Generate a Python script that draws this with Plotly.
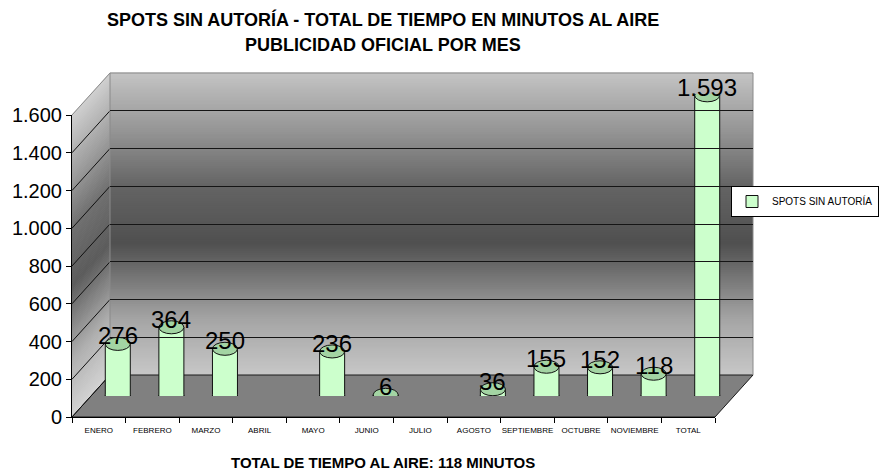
import math
import plotly.graph_objects as go

# ---------------- data ----------------
categories = ["ENERO", "FEBRERO", "MARZO", "ABRIL", "MAYO", "JUNIO", "JULIO",
              "AGOSTO", "SEPTIEMBRE", "OCTUBRE", "NOVIEMBRE", "TOTAL"]
minutes = [276, 364, 250, 0, 236, 6, 0, 36, 155, 152, 118, 1593]
series_name = "SPOTS SIN AUTORÍA"
y_ticks = [0, 200, 400, 600, 800, 1000, 1200, 1400, 1600]
title_lines = ["SPOTS SIN AUTORÍA - TOTAL DE TIEMPO EN MINUTOS AL AIRE",
               "PUBLICIDAD OFICIAL POR MES"]
footer = "TOTAL DE TIEMPO AL AIRE: 118 MINUTOS"

# ---------------- geometry (pixels) ----------------
W, H = 886, 471
FX0, FX1 = 72, 715          # front x extent
FY0, FYT = 417, 115         # front y of 0 and of 1600
DX, DY = 38, 42             # depth offset of back wall
YMAX = 1600
SCALE = (FY0 - FYT) / YMAX  # px per minute
NCAT = len(categories)
CATW = (FX1 - FX0) / NCAT   # px per category

FONT = "Arial, Liberation Sans, sans-serif"


def px(x):
    return x / W


def py(y):
    return 1 - y / H


def front_y(level):
    return FY0 - level * SCALE


def back_y(level):
    return FY0 - DY - level * SCALE


def shade(level, lighten=0):
    stops = [(0, 200), (300, 165), (700, 80), (1000, 100), (1300, 150), (1600, 196)]
    for (l0, c0), (l1, c1) in zip(stops[:-1], stops[1:]):
        if l0 <= level <= l1:
            c = c0 + (c1 - c0) * (level - l0) / (l1 - l0)
            break
    else:
        c = stops[-1][1]
    c = int(min(255, c + lighten))
    return f"rgb({c},{c},{c})"


shapes = []
# back wall gradient stripes
step = 10
for lv in range(0, YMAX, step):
    shapes.append(dict(type="rect", xref="paper", yref="paper", layer="below",
                       x0=px(FX0 + DX), x1=px(FX1 + DX),
                       y0=py(back_y(lv) + 0.5), y1=py(back_y(lv + step) - 0.5),
                       fillcolor=shade(lv + step / 2), line=dict(width=0)))
# side wall gradient stripes
for lv in range(0, YMAX, step):
    path = (f"M {px(FX0)},{py(front_y(lv) + 0.5)} L {px(FX0)},{py(front_y(lv + step) - 0.5)} "
            f"L {px(FX0 + DX)},{py(back_y(lv + step) - 0.5)} L {px(FX0 + DX)},{py(back_y(lv) + 0.5)} Z")
    shapes.append(dict(type="path", xref="paper", yref="paper", layer="below", path=path,
                       fillcolor=shade(lv + step / 2, 12), line=dict(width=0)))
# floor
floor_path = (f"M {px(FX0)},{py(FY0)} L {px(FX1)},{py(FY0)} L {px(FX1 + DX)},{py(FY0 - DY)} "
              f"L {px(FX0 + DX)},{py(FY0 - DY)} Z")
shapes.append(dict(type="path", xref="paper", yref="paper", layer="below", path=floor_path,
                   fillcolor="#808080", line=dict(color="#1a1a1a", width=1)))
# side wall diagonal grid lines
for lv in y_ticks:
    col = "#8a8a8a" if lv == YMAX else "#111111"
    shapes.append(dict(type="line", xref="paper", yref="paper", layer="below",
                       x0=px(FX0), y0=py(front_y(lv)), x1=px(FX0 + DX), y1=py(back_y(lv)),
                       line=dict(color=col, width=1)))
# wall edges
shapes.append(dict(type="line", xref="paper", yref="paper", layer="below",
                   x0=px(FX0 + DX), y0=py(back_y(0)), x1=px(FX0 + DX), y1=py(back_y(YMAX)),
                   line=dict(color="#8a8a8a", width=1)))
shapes.append(dict(type="line", xref="paper", yref="paper", layer="below",
                   x0=px(FX0 + DX), y0=py(back_y(YMAX)), x1=px(FX1 + DX), y1=py(back_y(YMAX)),
                   line=dict(color="#8a8a8a", width=1)))
shapes.append(dict(type="line", xref="paper", yref="paper", layer="below",
                   x0=px(FX1 + DX), y0=py(back_y(YMAX)), x1=px(FX1 + DX), y1=py(back_y(0)),
                   line=dict(color="#8a8a8a", width=1)))

# cylinder caps (computed from the data values on axis x2/y2)
A_PX, B_PX = 12.5, 6.5
a_u = A_PX / CATW
b_u = B_PX / SCALE
BODY = "#ccffcc"
CAP = "#a3d4a3"
for i, v in enumerate(minutes):
    if v <= 0:
        continue
    pts = []
    n = 24
    for k in range(n + 1):
        t = math.pi * k / n
        pts.append((i - a_u * math.cos(t), -b_u * math.sin(t)))
    p = f"M {i - a_u},{1.2 / SCALE} " + " ".join(f"L {x:.4f},{y:.3f}" for x, y in pts) + f" L {i + a_u},{1.2 / SCALE}"
    shapes.append(dict(type="path", xref="x2", yref="y2", layer="above", path=p,
                       fillcolor=BODY, line=dict(color="#111111", width=1)))
for i, v in enumerate(minutes):
    if v <= 0:
        continue
    shapes.append(dict(type="circle", xref="x2", yref="y2", layer="above",
                       x0=i - a_u, x1=i + a_u, y0=v - b_u, y1=v + b_u,
                       fillcolor=CAP, line=dict(color="#111111", width=1)))

annotations = []
for i, v in enumerate(minutes):
    if v <= 0:
        continue
    annotations.append(dict(x=i, y=v, xref="x2", yref="y2", text=f"{v:,}".replace(",", "."),
                            showarrow=False, yshift=8, font=dict(family=FONT, size=24, color="#000")))
annotations.append(dict(x=px(383), y=py(20), xref="paper", yref="paper", showarrow=False,
                        yanchor="middle", text=f"<b>{title_lines[0]}</b>",
                        font=dict(family=FONT, size=18, color="#000")))
annotations.append(dict(x=px(383), y=py(45), xref="paper", yref="paper", showarrow=False,
                        yanchor="middle", text=f"<b>{title_lines[1]}</b>",
                        font=dict(family=FONT, size=18, color="#000")))
annotations.append(dict(x=px(383), y=py(462), xref="paper", yref="paper", showarrow=False,
                        yanchor="middle", text=f"<b>{footer}</b>",
                        font=dict(family=FONT, size=15, color="#000")))

fig = go.Figure()
fig.add_trace(go.Bar(
    x=list(range(NCAT)), y=minutes, name=series_name, xaxis="x2", yaxis="y2",
    width=A_PX * 2 / CATW,
    marker=dict(color=BODY, line=dict(color="#111111", width=[1 if v > 0 else 0 for v in minutes])),
    hovertemplate="%{y}<extra></extra>",
))
# invisible trace to carry the front category axis
fig.add_trace(go.Scatter(x=categories, y=[None] * NCAT, xaxis="x", yaxis="y",
                         mode="markers", showlegend=False, hoverinfo="skip"))
fig.add_trace(go.Scatter(x=[None], y=[None], xaxis="x3", yaxis="y3", showlegend=False,
                         hoverinfo="skip"))

fig.update_layout(
    width=W, height=H,
    margin=dict(l=0, r=0, t=0, b=0, autoexpand=False),
    paper_bgcolor="white", plot_bgcolor="rgba(0,0,0,0)",
    separators=",.",
    font=dict(family=FONT, color="#000"),
    showlegend=True,
    legend=dict(x=px(731), y=py(201.5), xanchor="left", yanchor="middle",
                bgcolor="white", bordercolor="#000", borderwidth=1,
                font=dict(family=FONT, size=10, color="#000"),
                itemwidth=30, tracegroupgap=0),
    xaxis=dict(domain=[px(FX0), px(FX1)], type="category", categoryorder="array",
               categoryarray=categories, range=[-0.5, NCAT - 0.5], tickson="boundaries",
               showline=True, linecolor="#000", linewidth=1, ticks="outside", ticklen=5,
               tickcolor="#000", tickangle=0, automargin=False, ticklabelstandoff=5,
               tickfont=dict(family=FONT, size=8, color="#000"),
               showgrid=False, zeroline=False, anchor="y", fixedrange=True),
    yaxis=dict(domain=[py(FY0), py(FYT)], range=[0, YMAX], tickvals=y_ticks,
               separatethousands=True, showline=True, linecolor="#000", linewidth=1,
               ticks="outside", ticklen=5, tickcolor="#000", automargin=False,
               tickfont=dict(family=FONT, size=20, color="#000"),
               showgrid=False, zeroline=False, anchor="x", fixedrange=True),
    xaxis2=dict(domain=[px(FX0 + DX / 2), px(FX1 + DX / 2)], range=[-0.5, NCAT - 0.5],
                visible=False, anchor="y2", fixedrange=True),
    yaxis2=dict(domain=[py(FY0 - DY / 2), py(FYT - DY / 2)], range=[0, YMAX],
                visible=False, anchor="x2", fixedrange=True),
    xaxis3=dict(domain=[px(FX0 + DX), px(FX1 + DX)], range=[0, 1], visible=False,
                anchor="y3", fixedrange=True),
    yaxis3=dict(domain=[py(FY0 - DY), py(FYT - DY)], range=[0, YMAX], tickvals=y_ticks[:-1],
                showticklabels=False, ticks="", showline=False, showgrid=True,
                gridcolor="#151515", gridwidth=1, zeroline=False, anchor="x3", fixedrange=True),
    shapes=shapes,
    annotations=annotations,
)

fig.write_html("out.html", config={"displayModeBar": False},
               post_script="document.body.style.margin='0';")
